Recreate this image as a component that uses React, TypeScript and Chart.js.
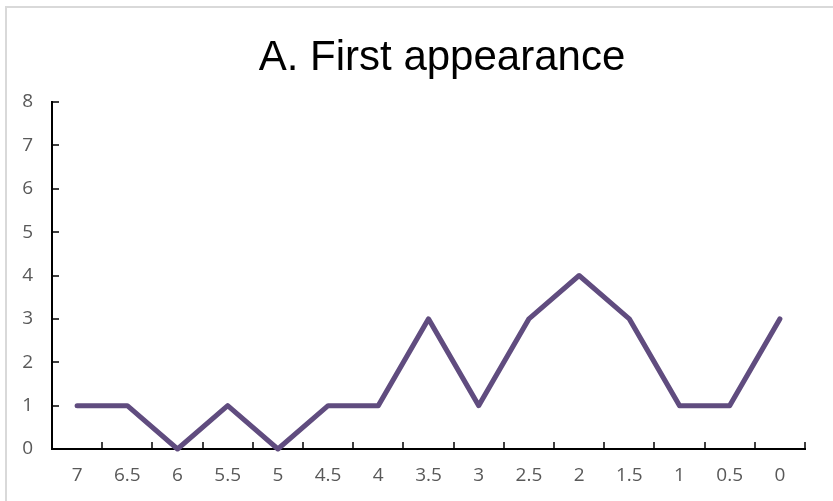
import { useEffect, useRef } from "react";
import { Chart, registerables } from "chart.js";

Chart.register(...registerables);

// Time bins (descending) and number of first appearances in each bin
const categories = ["7", "6.5", "6", "5.5", "5", "4.5", "4", "3.5", "3", "2.5", "2", "1.5", "1", "0.5", "0"];
const counts = [1, 1, 0, 1, 0, 1, 1, 3, 1, 3, 4, 3, 1, 1, 3];
const yMin = 0;
const yMax = 8;
const yStep = 1;

const TITLE = "A. First appearance";
const LINE_COLOR = "#604c7f";
const LABEL_COLOR = "#595959";
const TICK_FONT = { family: "'Open Sans', sans-serif", size: 19 };

// Short tick marks pointing into the plot area, on category boundaries (x) and on each value (y)
const innerTicks = {
  id: "innerTicks",
  afterDatasetsDraw(chart: any) {
    const { ctx, chartArea } = chart;
    const x = chart.scales.x;
    const y = chart.scales.y;
    ctx.save();
    ctx.strokeStyle = "#000";
    ctx.lineWidth = 1.5;
    ctx.beginPath();
    for (let i = 0; i <= categories.length; i++) {
      const px = Math.round(x.getPixelForValue(i - 0.5));
      ctx.moveTo(px, chartArea.bottom);
      ctx.lineTo(px, chartArea.bottom - 7);
    }
    y.ticks.forEach((t: any) => {
      const py = Math.round(y.getPixelForValue(t.value));
      ctx.moveTo(chartArea.left, py);
      ctx.lineTo(chartArea.left + 7, py);
    });
    ctx.stroke();
    ctx.restore();
  },
};

export default function App() {
  const canvasRef = useRef<HTMLCanvasElement | null>(null);

  useEffect(() => {
    if (!canvasRef.current) return;
    const chart = new Chart(canvasRef.current, {
      type: "line",
      data: {
        labels: categories,
        datasets: [
          {
            data: counts,
            borderColor: LINE_COLOR,
            borderWidth: 5,
            borderCapStyle: "round",
            borderJoinStyle: "round",
            pointRadius: 0,
            tension: 0,
            fill: false,
            clip: 6,
          },
        ],
      },
      options: {
        responsive: false,
        animation: false,
        layout: { padding: { top: 102, right: 28, bottom: 0, left: 0 } },
        plugins: {
          legend: { display: false },
          title: { display: false },
          tooltip: { enabled: false },
        },
        scales: {
          x: {
            offset: true,
            grid: { display: false, drawTicks: false },
            border: { display: true, color: "#000", width: 2 },
            ticks: {
              color: LABEL_COLOR,
              font: TICK_FONT,
              padding: 15,
              maxRotation: 0,
              autoSkip: false,
            },
            afterFit: (s: any) => {
              s.height = 52;
            },
          },
          y: {
            min: yMin,
            max: yMax,
            grid: { display: false, drawTicks: false },
            border: { display: true, color: "#000", width: 2 },
            ticks: {
              stepSize: yStep,
              color: LABEL_COLOR,
              font: TICK_FONT,
              padding: 19,
            },
            afterFit: (s: any) => {
              s.width = 52;
            },
          },
        },
      },
      plugins: [innerTicks],
    });
    return () => chart.destroy();
  }, []);

  return (
    <div style={{ position: "fixed", left: 0, top: 0, width: 833, height: 501, background: "#fff", overflow: "hidden" }}>
      <canvas ref={canvasRef} width={833} height={501} style={{ position: "absolute", left: 0, top: 0 }} />
      <div
        style={{
          position: "absolute",
          left: 5,
          top: 6,
          width: 840,
          height: 510,
          borderTop: "2px solid #d9d9d9",
          borderLeft: "2px solid #d9d9d9",
          pointerEvents: "none",
        }}
      />
      <div
        style={{
          position: "absolute",
          left: 0,
          width: 884,
          top: 31,
          textAlign: "center",
          fontFamily: "'Liberation Sans', Arial, sans-serif",
          fontSize: 42,
          lineHeight: "50px",
          color: "#000",
        }}
      >
        {TITLE}
      </div>
    </div>
  );
}
